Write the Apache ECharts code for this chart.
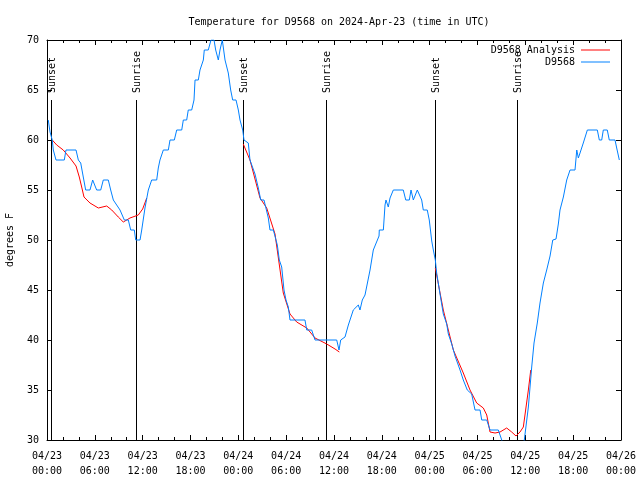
<!DOCTYPE html>
<html><head><meta charset="utf-8">
<script src="https://cdn.jsdelivr.net/npm/echarts@6/dist/echarts.min.js"></script>
<style>html,body{margin:0;padding:0;background:#fff}#c{width:640px;height:480px}</style>
</head><body><div id="c"></div>
<script>
// hours since 2024-04-23 00:00 UTC
const blueHours = [0.16,0.38,0.66,0.79,1.13,2.17,2.38,3.64,3.93,4.23,4.39,4.85,5.39,5.73,5.93,6.23,6.74,7.06,7.69,7.99,8.32,8.74,9.16,9.70,10.20,10.50,10.95,11.13,11.67,11.88,12.29,12.71,13.13,13.76,13.96,14.17,14.59,15.22,15.43,15.97,16.27,16.90,17.10,17.52,17.72,18.15,18.44,18.57,18.98,19.19,19.61,19.73,20.23,20.57,20.95,21.16,21.49,21.70,21.99,22.33,22.74,23.04,23.29,23.71,24.00,24.21,24.55,24.71,25.25,25.46,26.09,26.51,26.81,27.22,27.76,27.97,28.39,28.89,29.14,29.44,29.73,29.98,30.27,30.48,32.36,32.58,33.20,33.62,36.34,36.63,36.84,37.38,37.80,38.42,39.05,39.26,39.55,39.89,40.52,40.93,41.65,41.68,42.19,42.40,42.52,42.81,43.03,43.44,44.69,45.00,45.45,45.66,45.95,46.45,46.70,47.00,47.20,47.70,47.95,48.26,48.46,48.71,48.88,49.30,49.71,50.14,50.34,50.77,51.18,51.81,52.22,52.72,53.27,53.69,54.32,54.53,55.16,55.57,56.61,57.04,57.45,59.33,59.87,60.38,60.80,61.09,61.50,61.84,62.26,62.68,63.10,63.44,63.85,64.14,64.35,64.77,65.19,65.61,66.23,66.45,66.65,66.86,67.27,67.78,69.03,69.28,69.58,69.78,70.28,70.53,71.25,71.46,71.79];
const blueTemps = [62,60.8,60,59,58,58,59,59,58,57.7,57,55,55,56,56,55,55,56,56,55,54,53.5,53,52,52,51,51,50,50,51,53.2,55,56,56,57.2,58,59,59,60,60,61,61,62,62,63,63,64,66,66,67,68,69,69,70,70,69,68,69,70,68,66.7,65,64,64,63,62,61,60,59.7,58,56.6,55.2,54,54,52.2,51,51,49.5,48,47.3,45,44,43.3,42,42,41,41,40,40,39,40,40.3,41.5,43,43.5,43,44,44.5,47,49,50.4,51,51,53.5,54,53.3,54.2,55,55,54,54,55,54,55,55,54,53,53,52,49.9,49,48,46.7,44.6,42.6,41.6,40.6,39.6,38.4,37,36,35,34.6,33,33,32,32,31,31,30,28.5,28.5,30,33.3,37.3,39.7,41.7,43.7,45.7,47,48.4,50,50.1,51.6,53,54.3,56,57,57,59,58.2,58.7,59.7,61,61,60,60,61,61,60,60,59.2,58];

const an1Hours = [0.66,1.22,2.04,2.89,3.64,4.05,4.35,4.64,5.39,6.44,7.49,8.12,8.94,9.57,10.41,11.45,12.00,12.51];
const an1Temps = [60,59.5,59,58.2,57.4,56.3,55.3,54.3,53.7,53.2,53.4,53,52.3,51.8,52.2,52.5,53.1,54.2];
const an2Hours = [24.62,25.46,26.72,27.56,28.60,29.64,30.48,31.32,32.58,33.62,35.09,36.13,36.67];
const an2Temps = [59.6,58,54.2,53.2,50.6,44.7,42.6,41.8,41.2,40.2,39.6,39.1,38.8];
const an3Hours = [48.71,49.71,50.97,52.22,53.06,53.90,54.73,55.16,55.57,56.20,56.83,57.66,58.29,58.83,59.33,59.75,60.09,60.38,60.68];
const an3Temps = [47.2,43,39,36.7,35,33.7,33.2,32.5,30.8,30.7,30.8,31.2,30.8,30.4,30.8,31.3,33.3,35,37];

const eventHours = [0.54,11.13,24.62,35.03,48.71,58.99];
const eventLabels = ['Sunset','Sunrise','Sunset','Sunrise','Sunset','Sunrise'];
const eventTop = 64;

const dayLabels = ['04/23','04/24','04/25','04/26'];

const FONT = 'DejaVu Sans Mono';
const zip = (a,b) => a.map((v,i)=>[v,b[i]]);

const chart = echarts.init(document.getElementById('c'));
function xAxisCfg(pos, showLabel){
  return {
    type:'value', position:pos, min:0, max:72, interval:6,
    axisLine:{show:true, onZero:false, lineStyle:{color:'#000', width:1}},
    axisTick:{show:true, inside:true, length:5, lineStyle:{color:'#000'}},
    minorTick:{show:true, splitNumber:3, length:3, lineStyle:{color:'#000'}},
    splitLine:{show:false},
    axisLabel:{show:showLabel, margin:9, color:'#000', fontFamily:FONT, fontSize:10, lineHeight:15,
      formatter: v => { const d = Math.floor(v/24), h = v%24; return dayLabels[d] + '\n' + String(h).padStart(2,'0') + ':00'; }}
  };
}
function yAxisCfg(pos, showLabel){
  return {
    type:'value', position:pos, min:30, max:70, interval:5,
    axisLine:{show:true, onZero:false, lineStyle:{color:'#000', width:1}},
    axisTick:{show:true, inside:true, length:5, lineStyle:{color:'#000'}},
    splitLine:{show:false},
    name: showLabel ? 'degrees F' : '', nameLocation:'middle', nameRotate:90, nameGap:31.5,
    nameTextStyle:{color:'#000', fontFamily:FONT, fontSize:10},
    axisLabel:{show:showLabel, margin:8, color:'#000', fontFamily:FONT, fontSize:10}
  };
}
const RED = '#ff0000', BLUE = '#0080ff';
const redStyle = {type:'line', name:'D9568 Analysis', symbol:'none', color:RED, lineStyle:{width:1, color:RED}, clip:true, z:2};
chart.setOption({
  animation:false,
  backgroundColor:'#fff',
  title:{text:'Temperature for D9568 on 2024-Apr-23 (time in UTC)', left:334, top:12, textAlign:'center',
    textStyle:{fontFamily:FONT, fontSize:10, fontWeight:'normal', color:'#000'}},
  grid:{left:47, right:19, top:40, bottom:40, show:false, outerBoundsMode:'none', containLabel:false},
  legend:{data:[{name:'D9568 Analysis', icon:'rect'},{name:'D9568', icon:'rect'}], orient:'vertical', right:30, top:44, align:'right', itemGap:0,
    itemWidth:29, itemHeight:1, padding:0,
    textStyle:{fontFamily:FONT, fontSize:10, color:'#000', lineHeight:12, padding:[0,1,0,0]}},
  xAxis:[xAxisCfg('bottom', true), xAxisCfg('top', false)],
  yAxis:[yAxisCfg('left', true), yAxisCfg('right', false)],
  series:[
    {type:'custom', name:'events', silent:true, xAxisIndex:0, yAxisIndex:0, clip:false, z:1,
      data: eventHours.map((h,i)=>[h, i]),
      renderItem:(params, api)=>{
        const h = api.value(0); const lab = eventLabels[api.value(1)];
        const p0 = api.coord([h, 30]); const p1 = api.coord([h, eventTop]);
        const x = Math.round(p0[0]) + 0.5;
        return {type:'group', children:[
          {type:'line', shape:{x1:x, y1:p0[1], x2:x, y2:p1[1]}, style:{stroke:'#000', lineWidth:1}},
          {type:'text', x:x+1, y:p1[1]-7, rotation:Math.PI/2,
            style:{text:lab, font:'10px ' + FONT, textAlign:'left', textVerticalAlign:'middle', fill:'#000'}}
        ]};
      }},
    Object.assign({data:zip(an1Hours, an1Temps)}, redStyle),
    Object.assign({data:zip(an2Hours, an2Temps)}, redStyle),
    Object.assign({data:zip(an3Hours, an3Temps)}, redStyle),
    {type:'line', name:'D9568', symbol:'none', color:BLUE, lineStyle:{width:1, color:BLUE}, clip:true, z:3,
      data: zip(blueHours, blueTemps)}
  ]
});
</script></body></html>
